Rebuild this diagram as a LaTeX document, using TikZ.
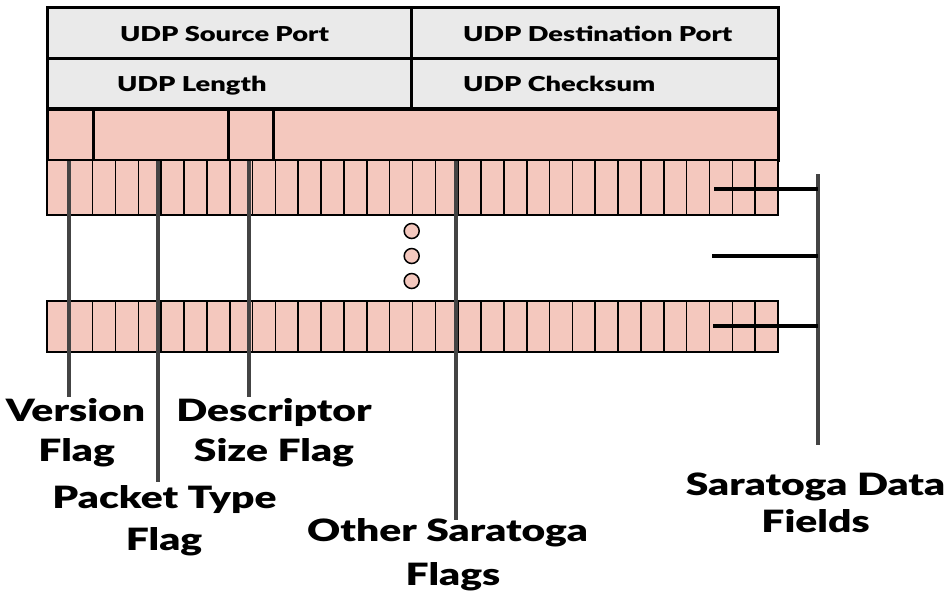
\documentclass[tikz,border=0pt]{standalone}
\usepackage{fontspec}
\setmainfont{Lato Black}[FakeStretch=1.33]
\definecolor{hdrgray}{HTML}{EAEAEA}
\definecolor{cellpink}{HTML}{F4C8BE}
\definecolor{leadgray}{HTML}{444444}
\begin{document}
\begin{tikzpicture}[x=1pt,y=-1pt,
  every node/.style={inner sep=0pt, outer sep=0pt},
  hdrbox/.style={draw=black, line width=3pt, fill=hdrgray, minimum height=50.5pt},
  flagbox/.style={draw=black, line width=3pt, fill=cellpink, minimum height=51pt},
  bitcell/.style={draw=black, line width=1.6pt, fill=cellpink, minimum width=22.84pt},
  hdrtext/.style={anchor=base west, font=\fontsize{20.5}{24}\selectfont},
  lbl/.style={anchor=base, font=\fontsize{30.7}{40}\selectfont},
  leader/.style={draw=leadgray, line width=4pt},
  tick/.style={draw=black, line width=4pt},
  dot/.style={circle, draw=black, line width=1.5pt, fill=cellpink, minimum size=15pt}]
\useasboundingbox (0,0) rectangle (949,598);

% UDP header words
\node[hdrbox, minimum width=364pt] (srcport) at (229,33) {};
\node[hdrbox, minimum width=367pt] (dstport) at (594.5,33) {};
\node[hdrbox, minimum width=364pt] (udplen) at (229,83.5) {};
\node[hdrbox, minimum width=367pt] (udpsum) at (594.5,83.5) {};
\node[hdrtext] (srctxt) at (120,41.7) {UDP Source Port};
\node[hdrtext] (dsttxt) at (463,41.7) {UDP Destination Port};
\node[hdrtext] (lentxt) at (117,91.7) {UDP Length};
\node[hdrtext] (sumtxt) at (463,91.7) {UDP Checksum};

% Saratoga flag fields
\node[flagbox, minimum width=46pt]  (fver)  at (70,134.5) {};
\node[flagbox, minimum width=135pt] (fpkt)  at (160.5,134.5) {};
\node[flagbox, minimum width=45pt]  (fdsc)  at (250.5,134.5) {};
\node[flagbox, minimum width=505pt] (foth)  at (525.5,134.5) {};

% two 32-bit data rows
\foreach \k in {0,...,31} {
  \node[bitcell, minimum height=55pt] (bita\k) at ({47+22.84375*(\k+0.5)},187.5) {};
  \node[bitcell, minimum height=51.5pt] (bitb\k) at ({47+22.84375*(\k+0.5)},326.25) {};
}
\draw[black, line width=2.6pt] (47,160) rectangle (778,215);
\draw[black, line width=2pt] (47,300.5) rectangle (778,352);

% ellipsis between the rows
\node[dot] (dot1) at (411.7,231) {};
\node[dot] (dot2) at (411.7,256) {};
\node[dot] (dot3) at (411.7,281) {};

% labels
\node[lbl] (verA) at (75.5,421.7) {Version};
\node[lbl] (verB) at (76.7,461.7) {Flag};
\node[lbl] (dscA) at (274,421.7) {Descriptor};
\node[lbl] (dscB) at (274,461.7) {Size Flag};
\node[lbl] (pktA) at (164.5,508) {Packet Type};
\node[lbl] (pktB) at (164,550) {Flag};
\node[lbl] (othA) at (447.5,541.7) {Other Saratoga};
\node[lbl] (othB) at (453,585) {Flags};
\node[lbl] (datA) at (815.5,495) {Saratoga Data};
\node[lbl] (datB) at (815.5,532.7) {Fields};

% leader lines
\coordinate (verTop) at (69.3,161);  \coordinate (verEnd) at (69.3,397);
\coordinate (pktTop) at (158.3,161); \coordinate (pktEnd) at (158.3,482);
\coordinate (dscTop) at (249.3,161); \coordinate (dscEnd) at (249.3,397);
\coordinate (othTop) at (455.7,161); \coordinate (othEnd) at (455.7,520);
\coordinate (datTop) at (817.7,174); \coordinate (datEnd) at (817.7,445);
\path[leader] (verTop) -- (verEnd);
\path[leader] (pktTop) -- (pktEnd);
\path[leader] (dscTop) -- (dscEnd);
\path[leader] (othTop) -- (othEnd);
\path[leader] (datTop) -- (datEnd);

% data field brackets
\coordinate (tickA) at (714,189);
\coordinate (tickB) at (712,256);
\coordinate (tickC) at (713,326);
\path[tick] (tickA) -- (tickA -| datTop);
\path[tick] (tickB) -- (tickB -| datTop);
\path[tick] (tickC) -- (tickC -| datTop);
\end{tikzpicture}
\end{document}
